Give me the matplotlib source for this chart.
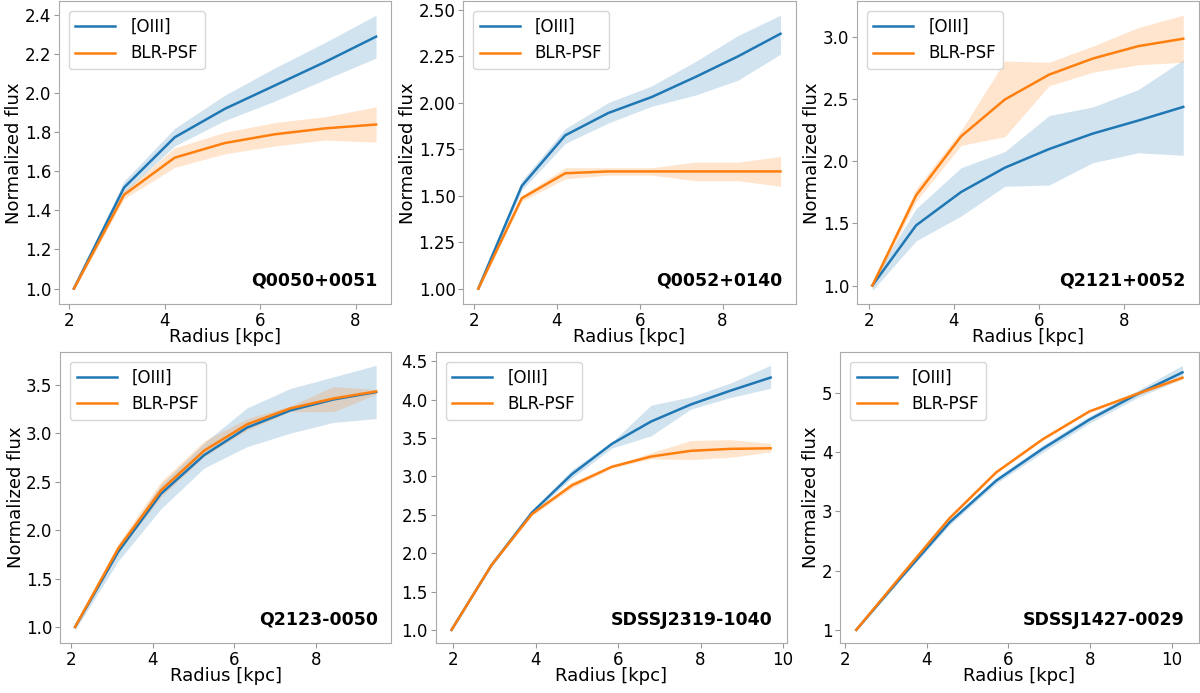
import numpy as np
import matplotlib
matplotlib.use('Agg')
import matplotlib.pyplot as plt

# Radial profiles (normalized flux)
names = ['Q0050+0051', 'Q0052+0140', 'Q2121+0052',
         'Q2123-0050', 'SDSSJ2319-1040', 'SDSSJ1427-0029']

radius = [
    [2.10, 3.15, 4.21, 5.26, 6.31, 7.36, 8.43],
    [2.10, 3.15, 4.20, 5.24, 6.29, 7.34, 8.37, 9.40],
    [2.08, 3.11, 4.17, 5.20, 6.24, 7.27, 8.34, 9.40],
    [2.09, 3.15, 4.20, 5.26, 6.31, 7.37, 8.43, 9.48],
    [1.96, 2.93, 3.91, 4.88, 5.85, 6.80, 7.77, 8.73, 9.70],
    [2.28, 3.42, 4.56, 5.70, 6.84, 7.98, 9.12, 10.26],
]

oiii = [
    [1.0, 1.517, 1.774, 1.92, 2.04, 2.16, 2.29],
    [1.0, 1.552, 1.824, 1.944, 2.03, 2.137, 2.248, 2.37],
    [1.0, 1.485, 1.754, 1.95, 2.10, 2.225, 2.33, 2.44],
    [1.0, 1.776, 2.375, 2.774, 3.057, 3.234, 3.347, 3.424],
    [1.0, 1.845, 2.53, 3.03, 3.426, 3.717, 3.94, 4.12, 4.29],
    [1.0, 1.92, 2.816, 3.52, 4.06, 4.55, 4.97, 5.35],
]
oiii_lo = [
    [0.99, 1.49, 1.73, 1.86, 1.96, 2.07, 2.18],
    [0.99, 1.53, 1.78, 1.89, 1.98, 2.04, 2.12, 2.26],
    [0.96, 1.36, 1.56, 1.80, 1.81, 1.99, 2.07, 2.05],
    [0.97, 1.68, 2.22, 2.64, 2.86, 3.00, 3.11, 3.15],
    [1.0, 1.83, 2.51, 2.98, 3.37, 3.53, 3.88, 4.03, 4.15],
    [1.0, 1.89, 2.77, 3.47, 4.00, 4.49, 4.91, 5.25],
]
oiii_hi = [
    [1.01, 1.55, 1.82, 1.99, 2.13, 2.26, 2.40],
    [1.01, 1.58, 1.86, 2.00, 2.09, 2.22, 2.36, 2.47],
    [1.04, 1.62, 1.95, 2.08, 2.37, 2.44, 2.58, 2.82],
    [1.02, 1.83, 2.47, 2.90, 3.26, 3.46, 3.58, 3.70],
    [1.0, 1.86, 2.55, 3.09, 3.45, 3.93, 4.04, 4.22, 4.45],
    [1.0, 1.95, 2.86, 3.57, 4.12, 4.61, 5.03, 5.47],
]

blr = [
    [1.0, 1.48, 1.67, 1.745, 1.79, 1.82, 1.84],
    [1.0, 1.486, 1.62, 1.63, 1.63, 1.63, 1.63, 1.63],
    [1.0, 1.727, 2.203, 2.50, 2.70, 2.83, 2.93, 2.99],
    [1.0, 1.81, 2.41, 2.82, 3.09, 3.255, 3.357, 3.43],
    [1.0, 1.845, 2.51, 2.885, 3.127, 3.26, 3.335, 3.36, 3.368],
    [1.0, 1.95, 2.886, 3.66, 4.22, 4.69, 4.98, 5.26],
]
blr_lo = [
    [0.99, 1.46, 1.62, 1.69, 1.73, 1.76, 1.75],
    [0.99, 1.47, 1.59, 1.61, 1.61, 1.58, 1.58, 1.55],
    [0.98, 1.68, 2.13, 2.20, 2.61, 2.72, 2.78, 2.80],
    [0.98, 1.77, 2.34, 2.76, 3.03, 3.22, 3.22, 3.40],
    [1.0, 1.83, 2.49, 2.85, 3.11, 3.23, 3.22, 3.25, 3.32],
    [1.0, 1.93, 2.86, 3.64, 4.20, 4.67, 4.96, 5.23],
]
blr_hi = [
    [1.01, 1.50, 1.72, 1.80, 1.85, 1.88, 1.93],
    [1.01, 1.50, 1.65, 1.65, 1.65, 1.68, 1.68, 1.71],
    [1.02, 1.78, 2.25, 2.81, 2.80, 2.93, 3.08, 3.18],
    [1.02, 1.86, 2.50, 2.92, 3.15, 3.28, 3.48, 3.45],
    [1.0, 1.86, 2.53, 2.93, 3.14, 3.31, 3.47, 3.48, 3.43],
    [1.0, 1.97, 2.91, 3.68, 4.24, 4.71, 5.00, 5.29],
]

# axes placement [left, bottom, width, height] in figure fraction
positions = [
    [0.049, 0.561, 0.277, 0.437],
    [0.386, 0.561, 0.277, 0.437],
    [0.714, 0.561, 0.285, 0.437],
    [0.050, 0.072, 0.276, 0.420],
    [0.363, 0.072, 0.2925, 0.420],
    [0.700, 0.072, 0.299, 0.420],
]
yticks = [
    [1.0, 1.2, 1.4, 1.6, 1.8, 2.0, 2.2, 2.4],
    [1.0, 1.25, 1.5, 1.75, 2.0, 2.25, 2.5],
    [1.0, 1.5, 2.0, 2.5, 3.0],
    [1.0, 1.5, 2.0, 2.5, 3.0, 3.5],
    [1.0, 1.5, 2.0, 2.5, 3.0, 3.5, 4.0, 4.5],
    [1, 2, 3, 4, 5],
]
yfmt = ['%.1f', '%.2f', '%.1f', '%.1f', '%.1f', '%d']

c_blue = '#1f77b4'
c_orange = '#ff7f0e'

fig = plt.figure(figsize=(12, 6.93), dpi=100)

for i in range(6):
    ax = fig.add_axes(positions[i])
    r = np.array(radius[i])
    ax.fill_between(r, oiii_lo[i], oiii_hi[i], color=c_blue, alpha=0.2, lw=0)
    ax.fill_between(r, blr_lo[i], blr_hi[i], color=c_orange, alpha=0.2, lw=0)
    ax.plot(r, oiii[i], color=c_blue, lw=1.8, label='[OIII]')
    ax.plot(r, blr[i], color=c_orange, lw=1.8, label='BLR-PSF')

    ax.set_yticks(yticks[i])
    ax.set_yticklabels([yfmt[i] % v for v in yticks[i]])
    if i >= 4:
        ax.set_xticks([2, 4, 6, 8, 10])
    else:
        ax.set_xticks([2, 4, 6, 8])
    ax.tick_params(labelsize=12, color='#999999', pad=2)
    for s in ax.spines.values():
        s.set_color('#aaaaaa')

    ax.set_xlabel('Radius [kpc]', fontsize=13, labelpad=-1)
    if i != 4:
        ax.set_ylabel('Normalized flux', fontsize=13, labelpad=1)

    ax.legend(loc='upper left', fontsize=12, handlelength=2.4,
              handletextpad=0.9, borderaxespad=0.6)
    ax.text(0.96, 0.05, names[i], transform=ax.transAxes, ha='right',
            va='bottom', fontsize=12.5, fontweight='bold')

fig.savefig('out.png', dpi=100)
